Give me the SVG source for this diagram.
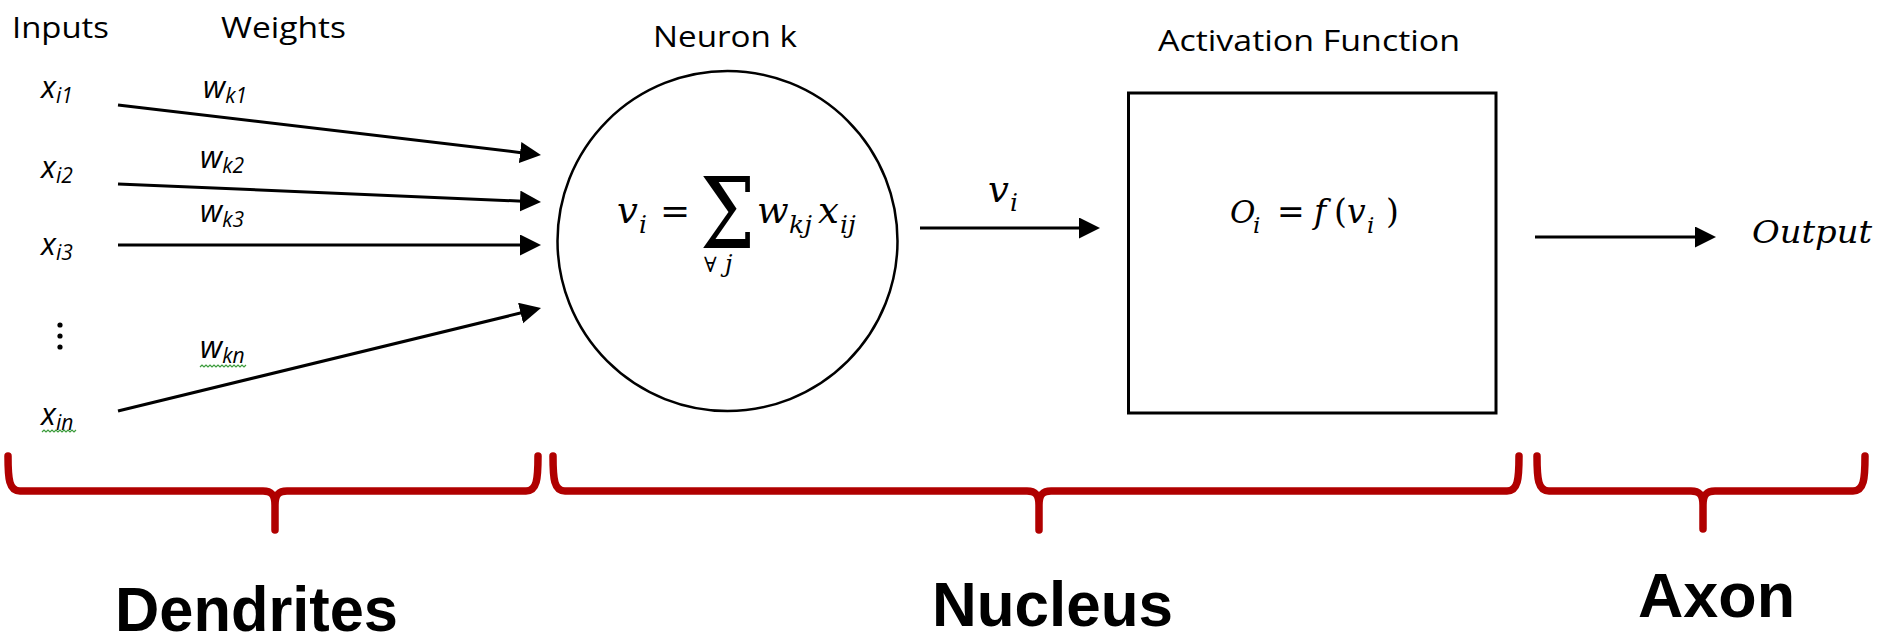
<svg xmlns="http://www.w3.org/2000/svg" width="1881" height="637" viewBox="0 0 1881 637">
<style>
.lbl{font-family:"Open Sans","Liberation Sans",sans-serif;font-size:30px;fill:#000}
.var{font-family:"Open Sans","Liberation Sans",sans-serif;font-style:italic;font-size:31px;fill:#000}
.sub{font-size:21px}
.math{font-family:"DejaVu Serif","Liberation Serif",serif;font-style:italic;fill:#000}
.op{font-family:"DejaVu Serif","Liberation Serif",serif;font-style:normal;fill:#000}
.big{font-family:"Liberation Sans",Arial,sans-serif;font-weight:bold;font-size:63px;fill:#000}
.conn{stroke:#000;stroke-width:3;fill:none;marker-end:url(#ah)}
.brace{stroke:#B00000;stroke-width:7.5;fill:none;stroke-linecap:round;stroke-linejoin:round}
.squig{stroke:#3c9c3c;stroke-width:1.2;fill:none}
</style>
<defs>
<marker id="ah" markerUnits="userSpaceOnUse" markerWidth="22" markerHeight="22" refX="3" refY="10.5" orient="auto">
<path d="M0,0 L21,10.5 L0,21 Z" fill="#000"/>
</marker>
</defs>
<rect width="1881" height="637" fill="#fff"/>

<g id="headers">
<text class="lbl" x="12" y="38" textLength="97" lengthAdjust="spacingAndGlyphs">Inputs</text>
<text class="lbl" x="221" y="38" textLength="125" lengthAdjust="spacingAndGlyphs">Weights</text>
</g>

<g id="inputs">
<text class="var" x="41" y="98">x<tspan class="sub" dy="5">i1</tspan></text>
<text class="var" x="41" y="178">x<tspan class="sub" dy="5">i2</tspan></text>
<text class="var" x="41" y="255">x<tspan class="sub" dy="5">i3</tspan></text>
<g fill="#000"><circle cx="60" cy="325" r="2.6"/><circle cx="60" cy="336" r="2.6"/><circle cx="60" cy="347" r="2.6"/></g>
<text class="var" x="41" y="425">x<tspan class="sub" dy="5">in</tspan></text>
<path class="squig" d="M42,432 l2,-2 l2,2 l2,-2 l2,2 l2,-2 l2,2 l2,-2 l2,2 l2,-2 l2,2 l2,-2 l2,2 l2,-2 l2,2 l2,-2 l2,2 l2,-2"/>
</g>

<g id="weights">
<text class="var" x="203" y="98">w<tspan class="sub" dy="5">k1</tspan></text>
<text class="var" x="200" y="168">w<tspan class="sub" dy="5">k2</tspan></text>
<text class="var" x="200" y="222">w<tspan class="sub" dy="5">k3</tspan></text>
<text class="var" x="200" y="358">w<tspan class="sub" dy="5">kn</tspan></text>
<path class="squig" d="M200,367 l2,-2 l2,2 l2,-2 l2,2 l2,-2 l2,2 l2,-2 l2,2 l2,-2 l2,2 l2,-2 l2,2 l2,-2 l2,2 l2,-2 l2,2 l2,-2 l2,2 l2,-2 l2,2 l2,-2 l2,2 l2,-2"/>
</g>

<g id="connectors">
<path class="conn" d="M118,105 L523.1,152.9"/>
<path class="conn" d="M118,184 L523,201.2"/>
<path class="conn" d="M118,245 L523,245"/>
<path class="conn" d="M118,411 L523.5,312.3"/>
<path class="conn" d="M920,228 L1082,228"/>
<path class="conn" d="M1535,237 L1698,237"/>
</g>

<g id="neuron">
<text class="lbl" x="653" y="47" textLength="144" lengthAdjust="spacingAndGlyphs">Neuron k</text>
<circle cx="727.5" cy="241" r="170" fill="none" stroke="#000" stroke-width="2.5"/>
<text class="math" x="617" y="223" font-size="37">v</text>
<text class="math" x="639" y="233" font-size="25">i</text>
<text class="op" x="660" y="223" font-size="36">=</text>
<text class="op" transform="translate(700,248) scale(0.78,1)" x="0" y="0" font-size="100" font-family="Liberation Serif">Σ</text>
<text class="op" x="704" y="272" font-size="21">∀</text>
<text class="math" x="725" y="272" font-size="24">j</text>
<text class="math" x="757" y="223" font-size="37">w</text>
<text class="math" x="789" y="233" font-size="25">kj</text>
<text class="math" x="818" y="223" font-size="37">x</text>
<text class="math" x="840" y="233" font-size="25">ij</text>
</g>

<g id="vi-label">
<text class="math" x="988" y="202" font-size="37">v</text>
<text class="math" x="1010" y="211" font-size="25">i</text>
</g>

<g id="activation">
<text class="lbl" x="1158" y="51" textLength="302" lengthAdjust="spacingAndGlyphs">Activation Function</text>
<rect x="1128.5" y="93" width="367.5" height="320" fill="none" stroke="#000" stroke-width="3"/>
<text class="math" x="1230" y="223" font-size="31">O</text>
<text class="math" x="1253" y="233" font-size="23">i</text>
<text class="op" x="1277" y="223" font-size="33">=</text>
<text class="math" x="1314" y="223" font-size="33">f</text>
<text class="op" x="1334" y="223" font-size="33">(</text>
<text class="math" x="1347" y="223" font-size="33">v</text>
<text class="math" x="1367" y="233" font-size="23">i</text>
<text class="op" x="1386" y="223" font-size="33">)</text>
</g>

<g id="output">
<text class="math" x="1752" y="243" font-size="31" textLength="120" lengthAdjust="spacingAndGlyphs">Output</text>
</g>

<g id="dendrites">
<path class="brace" d="M8,456 C8,479 9,491 20,491 L263,491 C271,491 275,494 275,505 L275,530 M275,505 C275,494 279,491 287,491 L526,491 C537,491 538,479 538,456"/>
<text class="big" x="115" y="631" textLength="283" lengthAdjust="spacingAndGlyphs">Dendrites</text>
</g>

<g id="nucleus">
<path class="brace" d="M553,456 C553,479 554,491 565,491 L1027,491 C1035,491 1039,494 1039,505 L1039,530 M1039,505 C1039,494 1043,491 1051,491 L1507,491 C1518,491 1519,479 1519,456"/>
<text class="big" x="932" y="626" textLength="241" lengthAdjust="spacingAndGlyphs">Nucleus</text>
</g>

<g id="axon">
<path class="brace" d="M1537,456 C1537,479 1538,491 1549,491 L1691,491 C1699,491 1703,494 1703,505 L1703,529 M1703,505 C1703,494 1707,491 1715,491 L1853,491 C1864,491 1865,479 1865,456"/>
<text class="big" x="1638" y="617" textLength="157" lengthAdjust="spacingAndGlyphs">Axon</text>
</g>
</svg>
